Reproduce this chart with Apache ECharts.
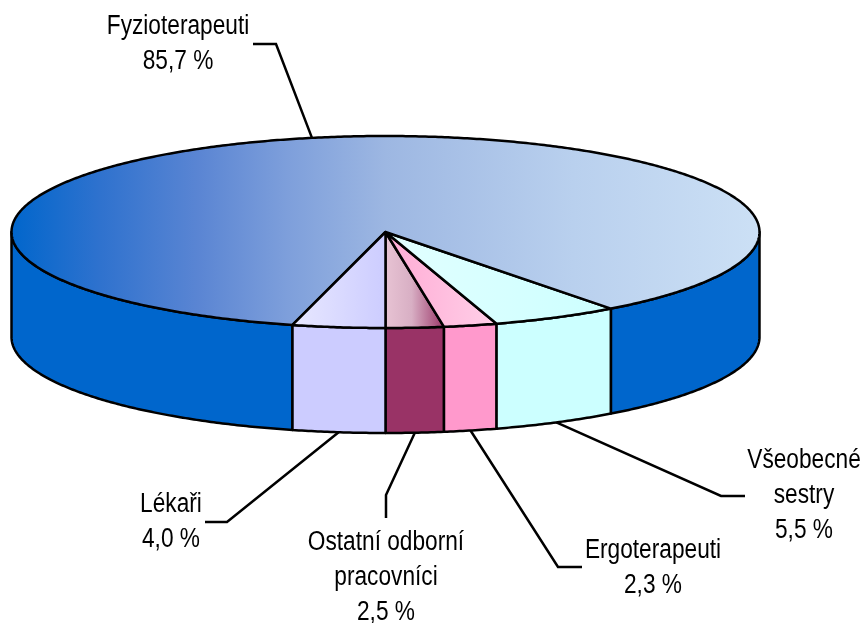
<!DOCTYPE html>
<html lang="cs">
    <head>
        <meta charset="utf-8">
        <title>Fyzioterapeuti</title>
        <style>
            html, body { margin: 0; padding: 0; background: #fff; }
            #chart { width: 864px; height: 623px; }
        </style>
    </head>
    <body>
        <div id="chart"></div>
        <script src="https://cdn.jsdelivr.net/npm/echarts@6/dist/echarts.min.js"></script>
        <script type="text/javascript">
            // data, clockwise from the front of the pie
            var names = ['Ostatní odborní\npracovníci', 'Ergoterapeuti', 'Všeobecné\nsestry', 'Fyzioterapeuti', 'Lékaři'];
            var values = [2.5, 2.3, 5.5, 85.7, 4.0];

            // pie geometry
            var cx = 385.5, cy = 232, rx = 374, ry = 96, depth = 105;
            var startAngle = 90;

            // colours
            var wallColors = ['#993366', '#FF99CC', '#CCFFFF', '#0066CC', '#CCCCFF'];
            var topColors = [
                [[0, '#E8C4D4'], [0.45, '#D8AFC4'], [1, '#993366']],
                [[0, '#FFAAD4'], [1, '#FFD0E8']],
                [[0, '#E2FFFF'], [1, '#CCFFFF']],
                [[0, '#0066CC'], [0.12, '#2F72CE'], [0.25, '#5A85D3'], [0.37, '#7E9FDB'], [0.5, '#9DB7E2'], [0.75, '#B9D0EE'], [1, '#CCE0F5']],
                [[0, '#E8E8FF'], [1, '#CCCCFF']]
            ];

            // leader elbow, leader end, label centre (first line)
            var leaders = [
                [[386, 495], [386, 518], [386, 542]],
                [[558, 567], [582, 567], [653, 550]],
                [[721, 496], [745, 496], [804, 460]],
                [[276, 44], [253, 44], [178, 26]],
                [[227, 522], [205, 522], [171, 504]]
            ];

            var slices = [];
            var acc = startAngle;
            values.forEach(function (v) {
                var sweep = v / 100 * 360;
                slices.push([acc - sweep, acc]);
                acc -= sweep;
            });

            function pt(t, dy) {
                var r = t * Math.PI / 180;
                return [cx + rx * Math.cos(r), cy + ry * Math.sin(r) + (dy || 0)];
            }
            function arc(a, b, dy) {
                var out = [];
                var n = Math.max(2, Math.ceil((b - a) / 0.5));
                for (var i = 0; i <= n; i++) {
                    out.push(pt(a + (b - a) * i / n, dy));
                }
                return out;
            }
            function gradient(stops) {
                return new echarts.graphic.LinearGradient(0, 0, 1, 0, stops.map(function (s) {
                    return { offset: s[0], color: s[1] };
                }));
            }

            function renderWall(params) {
                var s = slices[params.dataIndex];
                var children = [];
                // the front of the pie is 0..180, also look one turn back
                [0, -360].forEach(function (k) {
                    var a = Math.max(s[0], k), b = Math.min(s[1], k + 180);
                    if (b <= a) return;
                    children.push({
                        type: 'polygon',
                        shape: { points: arc(a, b, 0).concat(arc(a, b, depth).reverse()) },
                        style: { fill: wallColors[params.dataIndex], stroke: '#000', lineWidth: 2.5, lineJoin: 'round' }
                    });
                });
                return { type: 'group', children: children };
            }

            function renderTop(params) {
                var s = slices[params.dataIndex];
                return {
                    type: 'polygon',
                    shape: { points: [[cx, cy]].concat(arc(s[0], s[1], 0)) },
                    style: { fill: gradient(topColors[params.dataIndex]), stroke: '#000', lineWidth: 2.5, lineJoin: 'round' }
                };
            }

            function renderLabel(params) {
                var i = params.dataIndex;
                var s = slices[i];
                var mid = (s[0] + s[1]) / 2;
                var sin = Math.sin(mid * Math.PI / 180);
                var from = pt(mid, sin > 0 ? depth : 0);
                var l = leaders[i];
                return {
                    type: 'group',
                    children: [{
                        type: 'polyline',
                        shape: { points: [from, l[0], l[1]] },
                        style: { fill: null, stroke: '#000', lineWidth: 2.5 }
                    }, {
                        type: 'text',
                        x: l[2][0],
                        y: l[2][1] - 17,
                        scaleX: 0.84,
                        style: {
                            text: names[i] + '\n' + values[i].toFixed(1).replace('.', ',') + ' %',
                            x: 0,
                            y: 0,
                            align: 'center',
                            verticalAlign: 'top',
                            lineHeight: 35,
                            fill: '#000',
                            fontSize: 27,
                            fontFamily: '"Liberation Sans", Arial, sans-serif'
                        }
                    }]
                };
            }

            var myChart = echarts.init(document.getElementById('chart'), null, { renderer: 'canvas' });
            var option = {
                animation: false,
                backgroundColor: '#fff',
                series: [
                    { type: 'custom', coordinateSystem: 'none', z: 1, renderItem: renderWall, data: values, silent: true },
                    { type: 'custom', coordinateSystem: 'none', z: 2, renderItem: renderTop, data: values, silent: true },
                    { type: 'custom', coordinateSystem: 'none', z: 3, renderItem: renderLabel, data: values, silent: true }
                ]
            };
            myChart.setOption(option);
        </script>
    </body>
</html>
